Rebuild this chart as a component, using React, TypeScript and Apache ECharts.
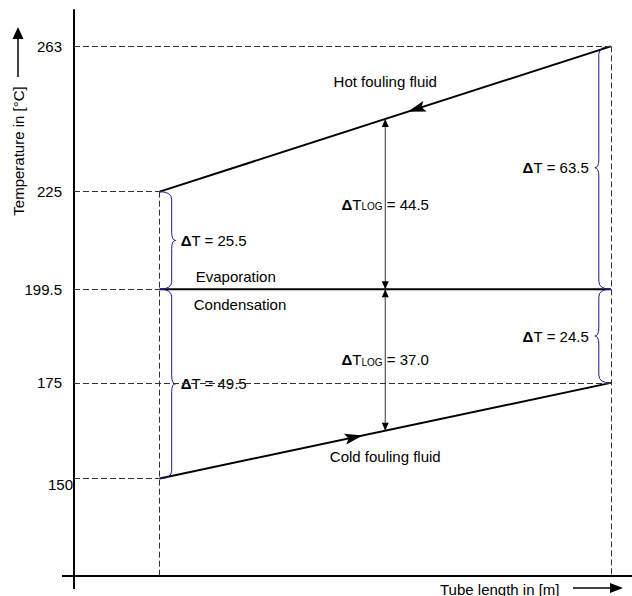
import React, { useEffect, useRef } from 'react';
import * as echarts from 'echarts';

// ---------- data ----------
// relative tube length positions (inlet, outlet)
const tubePositions = [0, 1];
// temperatures in °C at the two tube ends
const hotFluidTemps = [225, 263];
const coldFluidTemps = [150, 175];
const phaseChangeTemps = [199.5, 199.5];
// y-axis tick labels
const temperatureTicks = [150, 175, 199.5, 225, 263];
// log-mean temperature differences (hot side, cold side) and where they are drawn
const logMeanPosition = 0.5;
const logMeanDiffs = [44.5, 37.0];
// texts
const flowLabels = ['Hot fouling fluid', 'Cold fouling fluid'];
const phaseLabels = ['Evaporation', 'Condensation'];
const axisTitles = ['Temperature in [°C]', 'Tube length in [m]'];

// ---------- layout / style ----------
const FONT = '"Liberation Sans", Arial, Helvetica, sans-serif';
const X_MIN = -0.19;
const X_MAX = 1.047;
const Y_MIN = 124.5;
const Y_MAX = 272.5;
const GRID = { left: 74, right: 0, top: 10, bottom: 20 };
const BRACE_COLOR = '#1c1c8c';
const GUIDE_COLOR = '#333';

const rich = {
  b: { fontSize: 15, fontWeight: 'bold', fontFamily: FONT, fill: '#000' },
  n: { fontSize: 15, fontFamily: FONT, fill: '#000' },
  s: { fontSize: 10, fontFamily: FONT, fill: '#000', verticalAlign: 'bottom' },
};

function arrowPoints(tip: number[], ux: number, uy: number, L: number, W: number, notch: number) {
  const nx = -uy;
  const ny = ux;
  const bx = tip[0] - ux * L;
  const by = tip[1] - uy * L;
  return [
    [tip[0], tip[1]],
    [bx + (nx * W) / 2, by + (ny * W) / 2],
    [tip[0] - ux * L * notch, tip[1] - uy * L * notch],
    [bx - (nx * W) / 2, by - (ny * W) / 2],
  ];
}

function buildOption() {
  const pair = (temps: number[]) => tubePositions.map((x, i) => [x, temps[i]]);

  // dashed guides: horizontal from the axis to each end point, vertical from each tube end down
  const endPoints = [
    [tubePositions[0], hotFluidTemps[0]],
    [tubePositions[1], hotFluidTemps[1]],
    [tubePositions[0], phaseChangeTemps[0]],
    [tubePositions[0], coldFluidTemps[0]],
    [tubePositions[1], coldFluidTemps[1]],
  ];
  const guides: any[] = endPoints.map(([x, y]) => [{ coord: [X_MIN, y] }, { coord: [x, y] }]);
  tubePositions.forEach((x, i) => {
    const top = Math.max(hotFluidTemps[i], coldFluidTemps[i], phaseChangeTemps[i]);
    guides.push([{ coord: [x, top] }, { coord: [x, Y_MIN] }]);
  });

  // braces: [x, yFrom, yTo, direction]
  const braces = [
    [tubePositions[0], hotFluidTemps[0], phaseChangeTemps[0], 1],
    [tubePositions[0], phaseChangeTemps[0], coldFluidTemps[0], 1],
    [tubePositions[1], hotFluidTemps[1], phaseChangeTemps[1], -1],
    [tubePositions[1], phaseChangeTemps[1], coldFluidTemps[1], -1],
  ];

  // flows: [xFrom, yFrom, xTo, yTo]  (hot flows outlet -> inlet, cold inlet -> outlet)
  const flows = [
    [tubePositions[1], hotFluidTemps[1], tubePositions[0], hotFluidTemps[0]],
    [tubePositions[0], coldFluidTemps[0], tubePositions[1], coldFluidTemps[1]],
  ];
  const flowLabelDy = [-37, 26];

  const lineSeries = (name: string, temps: number[], extra: any = {}) => ({
    name,
    type: 'line',
    data: pair(temps),
    symbol: 'none',
    silent: true,
    z: 3,
    lineStyle: { color: '#000', width: 2 },
    ...extra,
  });

  const lowestTick = Math.min(...temperatureTicks);

  return {
    animation: false,
    backgroundColor: '#fff',
    grid: { ...GRID, containLabel: false, outerBoundsMode: 'none' },
    xAxis: {
      type: 'value',
      min: X_MIN,
      max: X_MAX,
      axisLine: { show: true, onZero: false, lineStyle: { color: '#000', width: 2 } },
      axisTick: { show: false },
      axisLabel: { show: false },
      splitLine: { show: false },
    },
    yAxis: {
      type: 'value',
      min: Y_MIN,
      max: Y_MAX,
      axisLine: { show: true, onZero: false, lineStyle: { color: '#000', width: 2 } },
      axisTick: { show: false },
      splitLine: { show: false },
      axisLabel: {
        customValues: temperatureTicks,
        formatter: (v: number) => (v === lowestTick ? `{low|${v}}` : `{t|${v}}`),
        color: '#000',
        fontSize: 15,
        fontFamily: FONT,
        margin: 1,
        rich: {
          t: { color: '#000', fontSize: 15, fontFamily: FONT, padding: [0, 11, 0, 0] },
          low: { color: '#000', fontSize: 15, fontFamily: FONT, padding: [12, 0, 0, 0] },
        },
      },
    },
    series: [
      lineSeries('Hot fouling fluid', hotFluidTemps, {
        markLine: {
          silent: true,
          symbol: ['none', 'none'],
          label: { show: false },
          emphasis: { disabled: true },
          lineStyle: { color: GUIDE_COLOR, width: 1, type: [6, 3] },
          data: guides,
        },
      }),
      lineSeries('Cold fouling fluid', coldFluidTemps),
      lineSeries('Phase change', phaseChangeTemps),
      {
        name: 'flow arrows',
        type: 'custom',
        coordinateSystem: 'cartesian2d',
        silent: true,
        z: 5,
        data: flows,
        renderItem: (params: any, api: any) => {
          const a = api.coord([api.value(0), api.value(1)]);
          const b = api.coord([api.value(2), api.value(3)]);
          const dx = b[0] - a[0];
          const dy = b[1] - a[1];
          const len = Math.hypot(dx, dy);
          const ux = dx / len;
          const uy = dy / len;
          const t = 0.45;
          const tip = [a[0] + dx * t, a[1] + dy * t];
          const mid = [(a[0] + b[0]) / 2, (a[1] + b[1]) / 2];
          const i = params.dataIndex;
          return {
            type: 'group',
            children: [
              { type: 'polygon', shape: { points: arrowPoints(tip, ux, uy, 18, 11, 0.8) }, style: { fill: '#000' } },
              {
                type: 'text',
                x: mid[0],
                y: mid[1] + flowLabelDy[i],
                style: { text: flowLabels[i], fill: '#000', fontSize: 15, fontFamily: FONT, align: 'center', verticalAlign: 'middle' },
              },
            ],
          };
        },
      },
      {
        name: 'phase labels',
        type: 'custom',
        coordinateSystem: 'cartesian2d',
        silent: true,
        z: 5,
        data: [[tubePositions[0], phaseChangeTemps[0]]],
        renderItem: (params: any, api: any) => {
          const p = api.coord([api.value(0), api.value(1)]);
          return {
            type: 'group',
            children: [
              { type: 'text', x: p[0] + 36, y: p[1] - 13, style: { text: phaseLabels[0], fill: '#000', fontSize: 15, fontFamily: FONT, align: 'left', verticalAlign: 'middle' } },
              { type: 'text', x: p[0] + 34, y: p[1] + 15, style: { text: phaseLabels[1], fill: '#000', fontSize: 15, fontFamily: FONT, align: 'left', verticalAlign: 'middle' } },
            ],
          };
        },
      },
      {
        name: 'log mean',
        type: 'custom',
        coordinateSystem: 'cartesian2d',
        silent: true,
        z: 4,
        data: [[logMeanPosition, phaseChangeTemps[0]]],
        renderItem: (params: any, api: any) => {
          const m = api.coord([api.value(0), api.value(1)]);
          const px = m[0];
          const yAt = (temps: number[]) => {
            const p = api.coord([tubePositions[0], temps[0]]);
            const q = api.coord([tubePositions[1], temps[1]]);
            return p[1] + ((q[1] - p[1]) * (px - p[0])) / (q[0] - p[0]);
          };
          const yHot = yAt(hotFluidTemps);
          const yCold = yAt(coldFluidTemps);
          const yMid = m[1];
          const head = (y: number, dir: number) => ({
            type: 'polygon',
            shape: { points: arrowPoints([px, y], 0, dir, 8, 7, 1) },
            style: { fill: '#000' },
          });
          const label = (y: number, v: number) => ({
            type: 'text',
            x: px,
            y,
            style: {
              text: `{b|Δ}{n|T}{s|LOG}{n| = ${v.toFixed(1)}}`,
              rich,
              fontSize: 15,
              fontFamily: FONT,
              fill: '#000',
              align: 'center',
              verticalAlign: 'middle',
            },
          });
          return {
            type: 'group',
            children: [
              { type: 'line', shape: { x1: px, y1: yHot, x2: px, y2: yCold }, style: { stroke: '#333', lineWidth: 1 } },
              head(yHot, -1),
              head(yMid, 1),
              head(yMid, -1),
              head(yCold, 1),
              label((yHot + yMid) / 2, logMeanDiffs[0]),
              label((yMid + yCold) / 2, logMeanDiffs[1]),
            ],
          };
        },
      },
      {
        name: 'braces',
        type: 'custom',
        coordinateSystem: 'cartesian2d',
        silent: true,
        z: 4,
        data: braces,
        renderItem: (params: any, api: any) => {
          const x = api.value(0);
          const vA = api.value(1);
          const vB = api.value(2);
          const dir = api.value(3);
          const pA = api.coord([x, vA]);
          const pB = api.coord([x, vB]);
          const x0 = pA[0];
          const top = Math.min(pA[1], pB[1]);
          const bot = Math.max(pA[1], pB[1]);
          const ym = (top + bot) / 2;
          const w = 12 * dir;
          const t = 4 * dir;
          const r = 8;
          const f = (n: number) => n.toFixed(1);
          const d =
            `M${f(x0)},${f(top)} Q${f(x0 + w)},${f(top)} ${f(x0 + w)},${f(top + r)} ` +
            `L${f(x0 + w)},${f(ym - r)} Q${f(x0 + w)},${f(ym)} ${f(x0 + w + t)},${f(ym)} ` +
            `Q${f(x0 + w)},${f(ym)} ${f(x0 + w)},${f(ym + r)} ` +
            `L${f(x0 + w)},${f(bot - r)} Q${f(x0 + w)},${f(bot)} ${f(x0)},${f(bot)}`;
          const diff = Math.abs(vA - vB);
          return {
            type: 'group',
            children: [
              { type: 'path', shape: { pathData: d }, style: { fill: 'none', stroke: BRACE_COLOR, lineWidth: 1 } },
              {
                type: 'text',
                x: x0 + w + t + (dir > 0 ? 5 : -6),
                y: ym,
                style: {
                  text: `{b|Δ}{n|T = ${diff.toFixed(1)}}`,
                  rich,
                  fontSize: 15,
                  fontFamily: FONT,
                  fill: '#000',
                  align: dir > 0 ? 'left' : 'right',
                  verticalAlign: 'middle',
                },
              },
            ],
          };
        },
      },
    ],
    graphic: [
      // axis extensions beyond the crossing point
      { type: 'line', silent: true, shape: { x1: 62, y1: 576, x2: 74, y2: 576 }, style: { stroke: '#000', lineWidth: 2 } },
      { type: 'line', silent: true, shape: { x1: 74, y1: 576, x2: 74, y2: 589 }, style: { stroke: '#000', lineWidth: 2 } },
      // y-axis title with arrow
      {
        type: 'text',
        silent: true,
        x: 18,
        y: 151,
        rotation: Math.PI / 2,
        style: { text: axisTitles[0], fill: '#000', fontSize: 15, fontFamily: FONT, align: 'center', verticalAlign: 'middle' },
      },
      { type: 'line', silent: true, shape: { x1: 18, y1: 77, x2: 18, y2: 37 }, style: { stroke: '#000', lineWidth: 1.5 } },
      { type: 'polygon', silent: true, shape: { points: [[18, 27], [12.5, 39], [23.5, 39]] }, style: { fill: '#000' } },
      // x-axis title with arrow
      {
        type: 'text',
        silent: true,
        x: 440,
        y: 589,
        style: { text: axisTitles[1], fill: '#000', fontSize: 15, fontFamily: FONT, align: 'left', verticalAlign: 'middle' },
      },
      { type: 'line', silent: true, shape: { x1: 573, y1: 588, x2: 612, y2: 588 }, style: { stroke: '#000', lineWidth: 1.5 } },
      { type: 'polygon', silent: true, shape: { points: [[623, 588], [610, 583], [610, 593]] }, style: { fill: '#000' } },
    ],
  };
}

export default function App() {
  const ref = useRef<HTMLDivElement>(null);
  useEffect(() => {
    if (!ref.current) return;
    const chart = echarts.init(ref.current, null, { renderer: 'svg' });
    chart.setOption(buildOption() as any);
    return () => chart.dispose();
  }, []);
  return (
    <div
      ref={ref}
      style={{ position: 'absolute', left: 0, top: 0, width: 632, height: 596, background: '#fff' }}
    />
  );
}
